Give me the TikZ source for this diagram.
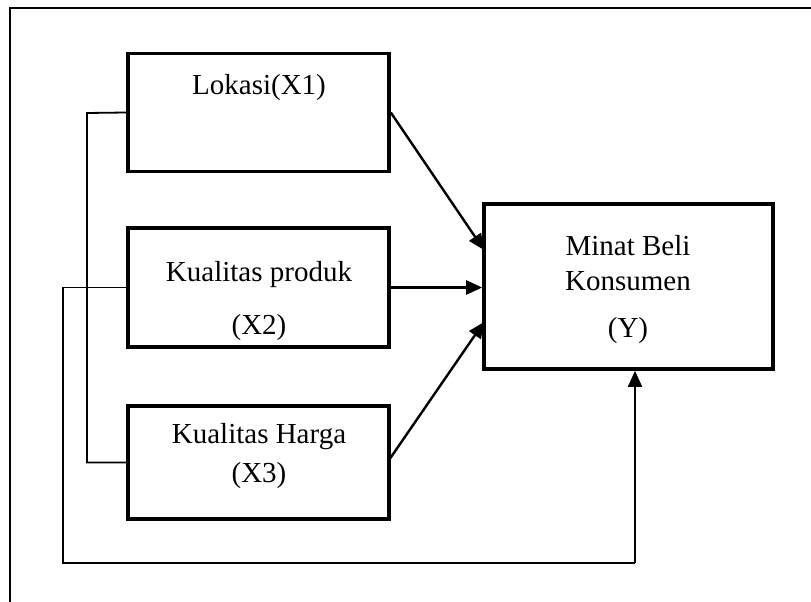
\documentclass[tikz,border=0pt]{standalone}
\usepackage{fontspec}
\setmainfont{Liberation Serif}
\usetikzlibrary{arrows.meta}
\begin{document}
\begin{tikzpicture}[x=1pt,y=-1pt,
  box/.style={draw,line width=3.6pt,inner sep=0pt,anchor=center},
  lbl/.style={inner sep=0pt,anchor=base,font=\fontsize{29}{35}\selectfont},
  arr/.style={line width=2.4pt,-{Triangle[length=16pt,width=14pt]}},
  link/.style={line width=1.8pt}]
\useasboundingbox (0,0) rectangle (811,602);
\draw[line width=2.8pt] (10,602) -- (10,8) -- (811,8);
\node[box,minimum width=261pt,minimum height=118pt] (x1) at (258.5,112.5) {};
\node[box,minimum width=261pt,minimum height=119pt] (x2) at (258.5,287.5) {};
\node[box,minimum width=261pt,minimum height=113pt] (x3) at (258.5,462.5) {};
\node[box,minimum width=289pt,minimum height=165pt] (y) at (628.5,286.5) {};
\node[lbl] (t1) at (259,94) {Lokasi(X1)};
\node[lbl] (t2a) at (259,281) {Kualitas produk};
\node[lbl] (t2b) at (259,334) {(X2)};
\node[lbl] (t3a) at (259,443) {Kualitas Harga};
\node[lbl] (t3b) at (259,482) {(X3)};
\node[lbl] (ta) at (628,255) {Minat Beli};
\node[lbl] (tb) at (628,290) {Konsumen};
\node[lbl] (tc) at (628,337) {(Y)};
\coordinate (y1) at (484,250);
\coordinate (y3) at (484,322);
\coordinate (bx) at (87,113);
\coordinate (lx) at (63,563);
\coordinate (yb) at (635,563);
\draw[arr] (x1.east) -- (y1);
\draw[arr] (x2.east) -- (x2.east -| y.west);
\draw[arr] (389,460) -- (y3);
\draw[link] (x1.west) -- (bx) |- (x3.west);
\draw[link] (x2.west) -| (lx) -- (yb);
\draw[arr,line width=1.8pt] (yb) -- (yb |- y.south);
\end{tikzpicture}
\end{document}
